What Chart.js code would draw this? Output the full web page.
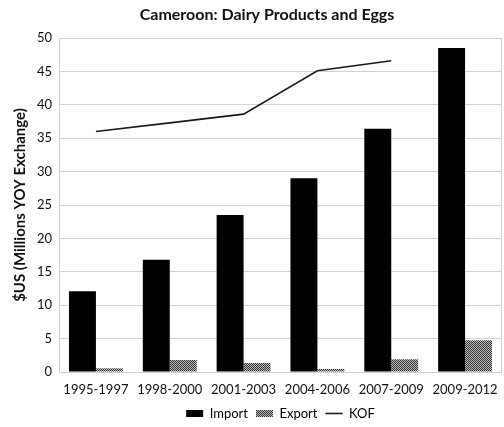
<!DOCTYPE html>
<html>
<head>
<meta charset="utf-8">
<script src="https://cdn.jsdelivr.net/npm/chart.js@4.4.1/dist/chart.umd.min.js"></script>
<style>
  html, body { margin: 0; padding: 0; background: #fff; }
  #wrap { width: 504px; height: 427px; }
</style>
</head>
<body>
<div id="wrap"><canvas id="c" width="504" height="427"></canvas></div>
<script>
// Periods on the x axis
const periods = ['1995-1997', '1998-2000', '2001-2003', '2004-2006', '2007-2009', '2009-2012'];
// Dairy products and eggs trade, $US millions
const importValues = [12.1, 16.8, 23.5, 29.0, 36.4, 48.5];
const exportValues = [0.55, 1.8, 1.35, 0.45, 1.9, 4.75];
// KOF globalisation index (no value for the last period)
const kofValues = [36.0, 37.3, 38.6, 45.1, 46.6, null];
// Y axis ticks
const yMin = 0, yMax = 50, yStep = 5;
const chartTitle = 'Cameroon: Dairy Products and Eggs';

// Fine checkered fill for the export bars
function checkerPattern() {
  const p = document.createElement('canvas');
  p.width = 2; p.height = 2;
  const g = p.getContext('2d');
  g.fillStyle = '#bdbdbd'; g.fillRect(0, 0, 2, 2);
  g.fillStyle = '#333333'; g.fillRect(0, 0, 1, 1); g.fillRect(1, 1, 1, 1);
  return g.createPattern(p, 'repeat');
}
const ctx = document.getElementById('c').getContext('2d');
const exportFill = checkerPattern();
const font = 'Lato';

// Thin grey frame around the plot area, and the heading above it
const frame = {
  id: 'frame',
  beforeDatasetsDraw(chart) {
    const a = chart.chartArea, c = chart.ctx;
    c.save();
    c.strokeStyle = '#d0d0d0';
    c.lineWidth = 1;
    c.strokeRect(Math.round(a.left) + 0.5, Math.round(a.top) + 0.5,
                 Math.round(a.right - a.left) - 1, Math.round(a.bottom - a.top));
    c.restore();
  },
  afterDraw(chart) {
    const c = chart.ctx;
    c.save();
    c.fillStyle = '#111';
    c.font = 'bold 16px ' + font;
    c.textAlign = 'center';
    c.textBaseline = 'middle';
    c.fillText(chartTitle, 267, 15);
    c.restore();
  }
};

new Chart(ctx, {
  data: {
    labels: periods,
    datasets: [
      { type: 'line', label: 'KOF', data: kofValues, borderColor: '#1a1a1a', borderWidth: 1.6,
        pointRadius: 0, tension: 0, fill: false, order: 0 },
      { type: 'bar', label: 'Import', data: importValues, backgroundColor: '#000000',
        categoryPercentage: 0.73, barPercentage: 1.0, order: 1 },
      { type: 'bar', label: 'Export', data: exportValues, backgroundColor: exportFill,
        categoryPercentage: 0.73, barPercentage: 1.0, order: 1 }
    ]
  },
  options: {
    responsive: false,
    animation: false,
    layout: { padding: { left: 0, right: 2, top: 38, bottom: -3 } },
    plugins: {
      title: { display: false },
      legend: {
        position: 'bottom',
        fullSize: false,
        labels: {
          color: '#111',
          font: { family: font, size: 13 },
          usePointStyle: true,
          pointStyleWidth: 17,
          boxHeight: 7,
          padding: 8,
          generateLabels() {
            return [
              { text: 'Import', fillStyle: '#000', strokeStyle: '#000', lineWidth: 0,
                pointStyle: 'rect', datasetIndex: 1 },
              { text: 'Export', fillStyle: exportFill, strokeStyle: 'rgba(0,0,0,0)', lineWidth: 0,
                pointStyle: 'rect', datasetIndex: 2 },
              { text: 'KOF', fillStyle: '#1a1a1a', strokeStyle: '#1a1a1a', lineWidth: 1.6,
                pointStyle: 'line', datasetIndex: 0 }
            ];
          }
        }
      },
      tooltip: { enabled: false }
    },
    scales: {
      x: {
        grid: { display: false },
        border: { display: false },
        ticks: { color: '#111', font: { family: font, size: 13 }, padding: 2, maxRotation: 0 },
        afterFit(s) { s.height = 27; }
      },
      y: {
        min: yMin, max: yMax,
        grid: { color: '#d0d0d0', lineWidth: 1, drawTicks: false },
        border: { display: false },
        ticks: { stepSize: yStep, color: '#111', font: { family: font, size: 13 }, padding: 7 },
        title: {
          display: true,
          text: '$US (Millions YOY Exchange)',
          color: '#111',
          font: { family: font, size: 15, weight: 'bold' },
          padding: { top: 11, bottom: 0 }
        },
        afterFit(s) { s.width = 59; }
      }
    }
  },
  plugins: [frame]
});
</script>
</body>
</html>
